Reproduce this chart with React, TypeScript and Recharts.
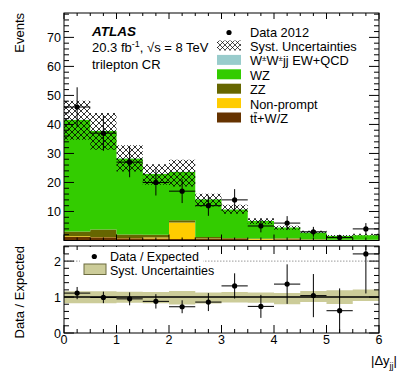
import { ComposedChart, Area, Scatter, ErrorBar, XAxis, YAxis, ReferenceLine } from "recharts";

const FONT = '"Liberation Sans", Arial, Helvetica, sans-serif';

// layout (page px)
const PL = 64;
const PR = 379;
const TOP_H = 245;
const TOP_PT = 13;
const TOP_PB = 240.5;
const RAT_TOP = 245;
const RAT_H = 127;
const RAT_PT = 1; // local to ratio chart
const RAT_PB = 88;
const AXIS_PX = 1; // axes need a non-zero size to draw their ticks

// 12 bins of |dy_jj|
const binEdges = [0, 0.5, 1, 1.5, 2, 2.5, 3, 3.5, 4, 4.5, 5, 5.5, 6];

// stacked expectation (bottom -> top)
const ttbarV = [1.2, 1.1, 0.8, 0.7, 0.5, 0.6, 0.5, 0.3, 0.4, 0.2, 0.1, 0.1];
const nonPrompt = [0.3, 0.1, 0.1, 0.3, 5.7, 0.1, 0.1, 0.2, 0.2, 0.1, 0.05, 0.05];
const zz = [1.6, 2.6, 1.2, 1.0, 0.8, 0.5, 0.3, 0.2, 0.2, 0.1, 0.1, 0.1];
const wz = [38.4, 33.9, 26.2, 20.9, 16.6, 13.0, 9.8, 6.0, 3.7, 2.4, 1.3, 1.55];
const wwjj = [0.1, 0.1, 0.1, 0.1, 0.1, 0.1, 0.1, 0.1, 0.1, 0.1, 0.05, 0.05];

// syst. band on the total
const systLow = [34.7, 31.3, 23.8, 19.2, 18.6, 11.7, 9.2, 5.7, 3.7, 2.5, 1.3, 1.7];
const systHigh = [48.2, 43.9, 32.8, 26.3, 27.8, 16.1, 12.3, 7.7, 5.1, 3.4, 1.9, 2.3];

// data 2012
const dataEvents = [46, 37, 27, 20, 17, 12, 14, 5, 6, 3, 1, 4];
const dataErr = [6.8, 6.1, 5.2, 4.5, 4.1, 3.5, 3.7, 2.2, 2.4, 1.7, 1.0, 2.0];

// ratio panel
const ratio = [1.11, 0.99, 0.95, 0.88, 0.73, 0.86, 1.31, 0.74, 1.36, 1.04, 0.62, 2.2];
const ratioErr = [0.17, 0.16, 0.18, 0.2, 0.18, 0.25, 0.35, 0.32, 0.55, 0.6, 0.62, 1.1];
const ratioSystLow = [0.83, 0.83, 0.84, 0.83, 0.79, 0.82, 0.85, 0.84, 0.8, 0.86, 0.81, 0.89];
const ratioSystHigh = [1.16, 1.16, 1.15, 1.14, 1.17, 1.13, 1.14, 1.13, 1.11, 1.17, 1.19, 1.21];

const eventLabels = [10, 20, 30, 40, 50, 60, 70];
const ratioLabels = [0, 1, 2];
const xLabels = [0, 1, 2, 3, 4, 5, 6];

const xTicks = Array.from({ length: 25 }, (_, i) => i * 0.25);
const eventTicks = Array.from({ length: 40 }, (_, i) => i * 2);
const ratioTicks = Array.from({ length: 13 }, (_, i) => Math.round(i * 2) / 10);

const COLORS = {
  ttbarV: "#663300",
  nonPrompt: "#ffcc00",
  zz: "#666600",
  wz: "#33cc00",
  wwjj: "#99cccc",
  band: "#cccc99",
};

// histogram rows at bin edges; last edge repeats last bin so the step closes at 6
const histRows = binEdges.map((x, i) => {
  const k = Math.min(i, dataEvents.length - 1);
  return {
    x,
    ttbarV: ttbarV[k],
    nonPrompt: nonPrompt[k],
    zz: zz[k],
    wz: wz[k],
    wwjj: wwjj[k],
    syst: [systLow[k], systHigh[k]],
    rsyst: [ratioSystLow[k], ratioSystHigh[k]],
  };
});

const dataPoints = dataEvents.map((y, i) => ({
  x: (binEdges[i] + binEdges[i + 1]) / 2,
  y,
  ey: dataErr[i],
  ex: (binEdges[i + 1] - binEdges[i]) / 2,
}));

const ratioPoints = ratio.map((y, i) => ({
  x: (binEdges[i] + binEdges[i + 1]) / 2,
  y,
  ey: ratioErr[i],
  ex: (binEdges[i + 1] - binEdges[i]) / 2,
}));

const Dot = (p: any) => <circle cx={p.cx} cy={p.cy} r={2.6} fill="#000" />;

const TopXTick = (p: any) => {
  const v = p.payload.value;
  const len = Number.isInteger(v) ? 6 : 3;
  return (
    <g>
      <line x1={p.x} x2={p.x} y1={TOP_PB} y2={TOP_PB - len} stroke="#000" />
      <line x1={p.x} x2={p.x} y1={TOP_PT} y2={TOP_PT + len} stroke="#000" />
    </g>
  );
};

const TopYTick = (p: any) => {
  const v = p.payload.value;
  const len = v % 10 === 0 ? 10 : 5;
  return (
    <g>
      <line x1={PL} x2={PL + len} y1={p.y} y2={p.y} stroke="#000" />
      <line x1={PR - len} x2={PR} y1={p.y} y2={p.y} stroke="#000" />
      {eventLabels.includes(v) && (
        <text x={PL - 3} y={p.y + 4.5} textAnchor="end" fontSize={12.5} fontFamily={FONT} fill="#000">
          {v}
        </text>
      )}
    </g>
  );
};

const RatioXTick = (p: any) => {
  const v = p.payload.value;
  const len = Number.isInteger(v) ? 8 : 4;
  return (
    <g>
      <line x1={p.x} x2={p.x} y1={RAT_PB} y2={RAT_PB - len} stroke="#000" />
      <line x1={p.x} x2={p.x} y1={RAT_PT} y2={RAT_PT + len} stroke="#000" />
      {xLabels.includes(v) && (
        <text x={p.x} y={RAT_PB + 10.5} textAnchor="middle" fontSize={12.5} fontFamily={FONT} fill="#000">
          {v}
        </text>
      )}
    </g>
  );
};

const RatioYTick = (p: any) => {
  const v = p.payload.value;
  const major = ratioLabels.includes(v);
  const len = major ? 10 : 5;
  return (
    <g>
      <line x1={PL} x2={PL + len} y1={p.y} y2={p.y} stroke="#000" />
      <line x1={PR - len} x2={PR} y1={p.y} y2={p.y} stroke="#000" />
      {major && (
        <text x={PL - 3} y={p.y + 4.5} textAnchor="end" fontSize={12.5} fontFamily={FONT} fill="#000">
          {v}
        </text>
      )}
    </g>
  );
};

const legendRows = [
  { label: "Syst. Uncertainties", fill: "url(#hatchLeg)" },
  { label: "WWjj", fill: COLORS.wwjj },
  { label: "WZ", fill: COLORS.wz },
  { label: "ZZ", fill: COLORS.zz },
  { label: "Non-prompt", fill: COLORS.nonPrompt },
  { label: "ttV", fill: COLORS.ttbarV },
];

const legendText = (label: string) => {
  if (label === "WWjj")
    return (
      <>
        W<tspan fontSize={8} dy={-4}>±</tspan>
        <tspan dy={4}>W</tspan>
        <tspan fontSize={8} dy={-4}>±</tspan>
        <tspan dy={4}>jj EW+QCD</tspan>
      </>
    );
  if (label === "ttV") return "tt+W/Z";
  return label;
};

export default function App() {
  return (
    <div style={{ position: "absolute", left: 0, top: 0, width: 399, height: 372, background: "#fff", fontFamily: FONT }}>
      <div style={{ position: "absolute", left: 0, top: 0 }}>
        <ComposedChart
          width={399}
          height={TOP_H}
          data={histRows}
          margin={{ top: TOP_PT, right: 399 - PR, bottom: TOP_H - TOP_PB - AXIS_PX, left: PL - AXIS_PX }}
        >
          <Area type="stepAfter" dataKey="ttbarV" stackId="mc" stroke="none" fill={COLORS.ttbarV} fillOpacity={1} dot={false} activeDot={false} isAnimationActive={false} />
          <Area type="stepAfter" dataKey="nonPrompt" stackId="mc" stroke="none" fill={COLORS.nonPrompt} fillOpacity={1} dot={false} activeDot={false} isAnimationActive={false} />
          <Area type="stepAfter" dataKey="zz" stackId="mc" stroke="none" fill={COLORS.zz} fillOpacity={1} dot={false} activeDot={false} isAnimationActive={false} />
          <Area type="stepAfter" dataKey="wz" stackId="mc" stroke="none" fill={COLORS.wz} fillOpacity={1} dot={false} activeDot={false} isAnimationActive={false} />
          <Area type="stepAfter" dataKey="wwjj" stackId="mc" stroke="none" fill={COLORS.wwjj} fillOpacity={1} dot={false} activeDot={false} isAnimationActive={false} />
          <Area type="stepAfter" dataKey="syst" stroke="none" fill="url(#hatchX)" fillOpacity={1} dot={false} activeDot={false} isAnimationActive={false} />
          <Scatter data={dataPoints} dataKey="y" shape={Dot} isAnimationActive={false}>
            <ErrorBar dataKey="ey" direction="y" width={0} stroke="#000" strokeWidth={1} />
            <ErrorBar dataKey="ex" direction="x" width={0} stroke="#000" strokeWidth={1} />
          </Scatter>
          <XAxis dataKey="x" type="number" domain={[0, 6]} ticks={xTicks} interval={0} height={AXIS_PX} axisLine={false} tickLine={false} tick={TopXTick} allowDataOverflow />
          <YAxis type="number" domain={[0, 78.4]} ticks={eventTicks} interval={0} width={AXIS_PX} axisLine={false} tickLine={false} tick={TopYTick} allowDataOverflow />
        </ComposedChart>
      </div>

      <div style={{ position: "absolute", left: 0, top: RAT_TOP }}>
        <ComposedChart
          width={399}
          height={RAT_H}
          data={histRows}
          margin={{ top: RAT_PT, right: 399 - PR, bottom: RAT_H - RAT_PB - AXIS_PX, left: PL - AXIS_PX }}
        >
          <Area type="stepAfter" dataKey="rsyst" stroke="none" fill={COLORS.band} fillOpacity={1} dot={false} activeDot={false} isAnimationActive={false} />
          <ReferenceLine y={2} stroke="#999" strokeDasharray="1.5 1.5" />
          <ReferenceLine y={1} stroke="#000" strokeWidth={1.5} />
          <Scatter data={ratioPoints} dataKey="y" shape={Dot} isAnimationActive={false}>
            <ErrorBar dataKey="ey" direction="y" width={0} stroke="#000" strokeWidth={1} />
            <ErrorBar dataKey="ex" direction="x" width={0} stroke="#000" strokeWidth={1} />
          </Scatter>
          <XAxis dataKey="x" type="number" domain={[0, 6]} ticks={xTicks} interval={0} height={AXIS_PX} axisLine={false} tickLine={false} tick={RatioXTick} allowDataOverflow />
          <YAxis type="number" domain={[0, 2.42]} ticks={ratioTicks} interval={0} width={AXIS_PX} axisLine={false} tickLine={false} tick={RatioYTick} allowDataOverflow />
        </ComposedChart>
      </div>

      <svg width={399} height={372} style={{ position: "absolute", left: 0, top: 0, pointerEvents: "none" }} fontFamily={FONT}>
        <defs>
          <pattern id="hatchX" patternUnits="userSpaceOnUse" width={6} height={6}>
            <path d="M0,0 L6,6 M6,0 L0,6" stroke="#000" strokeWidth={0.8} />
          </pattern>
          <pattern id="hatchLeg" patternUnits="userSpaceOnUse" width={5} height={5}>
            <path d="M0,0 L5,5 M5,0 L0,5" stroke="#000" strokeWidth={0.7} />
          </pattern>
        </defs>

        {/* frames */}
        <rect x={PL} y={TOP_PT} width={PR - PL} height={TOP_PB - TOP_PT} fill="none" stroke="#000" strokeWidth={1} />
        <rect x={PL} y={RAT_TOP + RAT_PT} width={PR - PL} height={RAT_PB - RAT_PT} fill="none" stroke="#000" strokeWidth={1} />

        {/* axis titles */}
        <text transform="translate(24,13) rotate(-90)" textAnchor="end" fontSize={13} fill="#000">Events</text>
        <text transform={`translate(23.5,${RAT_TOP + RAT_PT}) rotate(-90)`} textAnchor="end" fontSize={13} fill="#000">
          Data / Expected
        </text>
        <text x={397} y={365} textAnchor="end" fontSize={13} fill="#000">
          |Δy<tspan fontSize={9} dy={3.5}>jj</tspan>
          <tspan dy={-3.5}>|</tspan>
        </text>

        {/* labels */}
        <text x={92} y={36} fontSize={13.5} fontWeight="bold" fontStyle="italic" fill="#000">ATLAS</text>
        <text x={92} y={51.5} fontSize={13} fill="#000">
          20.3 fb<tspan fontSize={9} dy={-5}>-1</tspan>
          <tspan dy={5}>, √s = 8 TeV</tspan>
        </text>
        <text x={92} y={68.5} fontSize={13} fill="#000">trilepton CR</text>

        {/* main legend */}
        <circle cx={229} cy={32.5} r={2.6} fill="#000" />
        <text x={250} y={36.6} fontSize={12.8} fill="#000">Data 2012</text>
        {legendRows.map((r, i) => {
          const base = 51 + i * 14.4;
          return (
            <g key={r.label}>
              <rect x={217} y={base - 10.5} width={24} height={10} fill={r.fill} />
              <text x={250} y={base} fontSize={12.8} fill="#000">{legendText(r.label)}</text>
              {r.label === "ttV" && <line x1={253.8} x2={257.2} y1={base - 10.2} y2={base - 10.2} stroke="#000" strokeWidth={0.9} />}
            </g>
          );
        })}

        {/* ratio legend */}
        <rect x={80} y={RAT_TOP + 2} width={123} height={31} fill="#fff" />
        <circle cx={94.3} cy={256.5} r={2.6} fill="#000" />
        <text x={110} y={261} fontSize={12.5} fill="#000">Data / Expected</text>
        <rect x={84} y={264} width={22} height={10.5} fill={COLORS.band} stroke="#6b6b3f" strokeWidth={1} />
        <text x={110} y={275} fontSize={12.5} fill="#000">Syst. Uncertainties</text>
      </svg>
    </div>
  );
}
